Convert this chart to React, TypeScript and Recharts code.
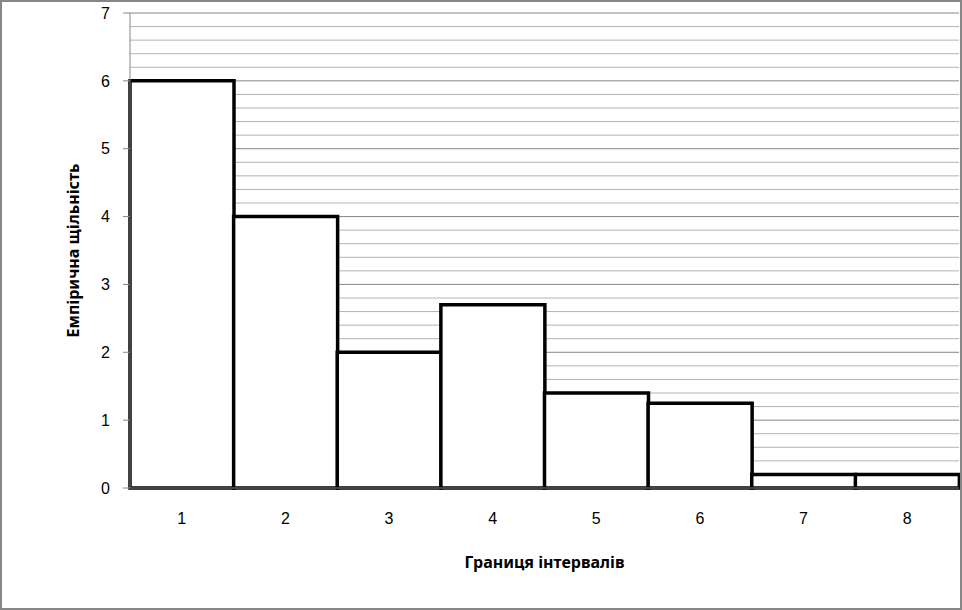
import React from 'react'
import { BarChart, Bar, XAxis, YAxis, CartesianGrid } from 'recharts'

const intervals = ['1', '2', '3', '4', '5', '6', '7', '8']
const density = [6, 4, 2, 2.7, 1.4, 1.25, 0.2, 0.2]
const yTicks = [0, 1, 2, 3, 4, 5, 6, 7]
const minorTicks = [
  0.2, 0.4, 0.6, 0.8, 1.2, 1.4, 1.6, 1.8, 2.2, 2.4, 2.6, 2.8, 3.2, 3.4, 3.6, 3.8,
  4.2, 4.4, 4.6, 4.8, 5.2, 5.4, 5.6, 5.8, 6.2, 6.4, 6.6, 6.8,
]

const data = intervals.map((name, i) => ({ name, value: density[i] }))

const FONT = '"Liberation Sans", Arial, sans-serif'
const TITLE_FONT = '"Noto Sans", "Open Sans", sans-serif'
const AXIS_GRAY = '#868686'
const MINOR_GRAY = '#b4b4b4'

const YTitle = (props: any) => {
  const vb = props.viewBox || {}
  const cx = vb.x + 73
  const cy = vb.y + vb.height / 2
  return (
    <text
      x={cx}
      y={cy}
      transform={`rotate(-90, ${cx}, ${cy})`}
      textAnchor="middle"
      dominantBaseline="central"
      fontFamily={TITLE_FONT}
      fontWeight="bold"
      fontSize={16}
      fill="#000"
    >
      Емпірична щільність
    </text>
  )
}

const XTitle = (props: any) => {
  const vb = props.viewBox || {}
  return (
    <text
      x={vb.x + vb.width / 2}
      y={vb.y + 74}
      textAnchor="middle"
      dominantBaseline="central"
      fontFamily={TITLE_FONT}
      fontWeight="bold"
      fontSize={16}
      fill="#000"
    >
      Границя інтервалів
    </text>
  )
}

export default function App() {
  return (
    <div style={{ position: 'absolute', left: 0, top: 0, width: 962, height: 610, background: '#fff' }}>
      <BarChart
        width={962}
        height={610}
        data={data}
        margin={{ top: 13, right: 3, left: 0, bottom: 0 }}
        barCategoryGap={0}
        barGap={0}
      >
        <CartesianGrid vertical={false} stroke={MINOR_GRAY} strokeWidth={1} horizontalValues={minorTicks} />
        <CartesianGrid vertical={false} stroke={AXIS_GRAY} strokeWidth={1} />
        <XAxis
          dataKey="name"
          height={122}
          tickSize={0}
          tickMargin={25}
          axisLine={{ stroke: AXIS_GRAY }}
          tick={{ fill: '#000', fontSize: 16, fontFamily: FONT }}
          label={{ content: XTitle }}
        />
        <YAxis
          width={130}
          domain={[0, 7]}
          ticks={yTicks}
          interval={0}
          tickSize={7}
          tickMargin={13}
          axisLine={{ stroke: AXIS_GRAY }}
          tickLine={{ stroke: AXIS_GRAY }}
          tick={{ fill: '#000', fontSize: 16, fontFamily: FONT }}
          label={{ content: YTitle }}
        />
        <Bar dataKey="value" fill="#fff" stroke="#000" strokeWidth={3.5} isAnimationActive={false} />
      </BarChart>
      <div
        style={{
          position: 'absolute',
          left: 0,
          top: 0,
          width: 962,
          height: 610,
          boxSizing: 'border-box',
          border: `2px solid ${AXIS_GRAY}`,
          pointerEvents: 'none',
        }}
      />
    </div>
  )
}
